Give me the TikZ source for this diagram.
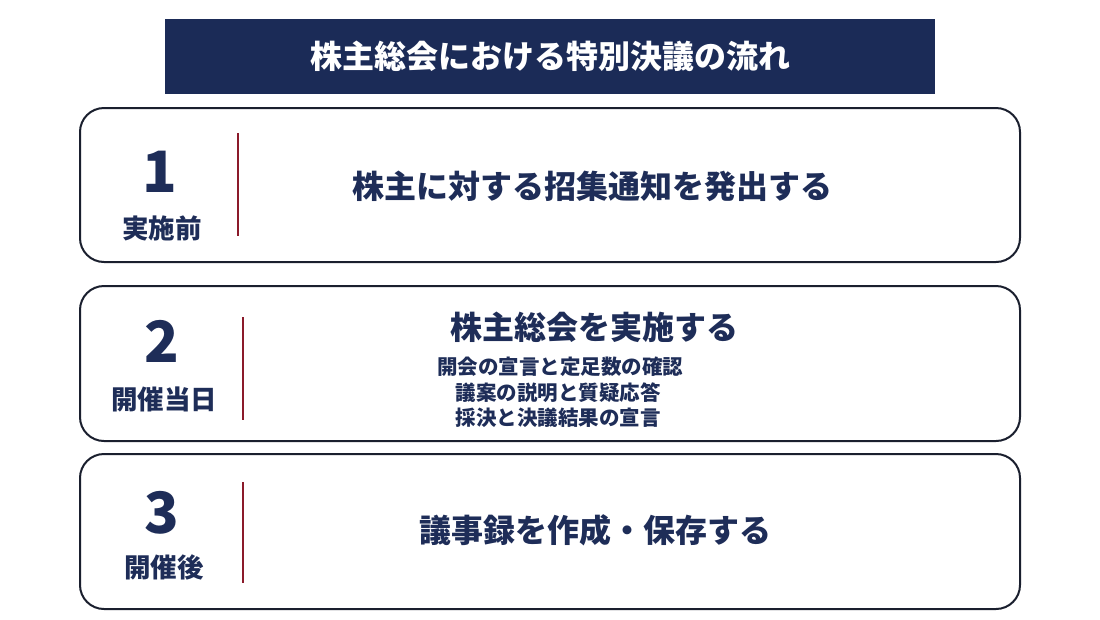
\documentclass[tikz,border=0pt]{standalone}
\usepackage{fontspec}
\setmainfont{Noto Sans CJK JP}
\newfontfamily\cjk{Noto Sans CJK JP}
\definecolor{navy}{HTML}{1B2B57}
\definecolor{txtnavy}{HTML}{1E2D58}
\definecolor{darkred}{HTML}{8B1A2A}
\definecolor{boxline}{HTML}{1A1F2E}
\tikzset{
  stepbox/.style={draw=boxline, line width=2pt, rounded corners=24pt, fill=white},
  numtext/.style={text=txtnavy, font=\cjk\bfseries\fontsize{57}{60}\selectfont, inner sep=0pt},
  phasetext/.style={text=txtnavy, font=\cjk\bfseries\fontsize{26.5}{30}\selectfont, inner sep=0pt},
  maintext/.style={text=txtnavy, font=\cjk\bfseries\fontsize{32}{35}\selectfont, inner sep=0pt},
  subtext/.style={text=txtnavy, font=\cjk\bfseries\fontsize{20.5}{24}\selectfont, inner sep=0pt},
  sepline/.style={draw=darkred, line width=2pt}
}
\begin{document}
\begin{tikzpicture}[x=1pt,y=-1pt]
\useasboundingbox[fill=white] (0,0) rectangle (1100,619);
% title
\node[fill=navy, minimum width=770pt, minimum height=75pt, inner sep=0pt] (title) at (550,56) {};
\node[text=white, font=\cjk\bfseries\fontsize{32}{35}\selectfont, inner sep=0pt] (titletext) at (550,56) {株主総会における特別決議の流れ};
% boxes
\draw[stepbox] (80,108) rectangle (1020,262);
\node (box1) at (550,185) {};
\draw[stepbox] (80,286) rectangle (1020,441);
\node (box2) at (550,363) {};
\draw[stepbox] (80,454) rectangle (1020,609);
\node (box3) at (550,531) {};
% box 1
\node[numtext] (n1) at (160,172) {1};
\node[phasetext] (p1) at (162,228) {実施前};
\coordinate (l1a) at (238,133);
\coordinate (l1b) at (238,236);
\draw[sepline] (l1a) -- (l1b);
\node[maintext] (m1) at (592,186) {株主に対する招集通知を発出する};
% box 2
\node[numtext] (n2) at (162,341) {2};
\node[phasetext] (p2) at (164,399) {開催当日};
\coordinate (l2a) at (243,317);
\coordinate (l2b) at (243,420);
\draw[sepline] (l2a) -- (l2b);
\node[maintext] (m2) at (594,327) {株主総会を実施する};
\node[subtext] (s1) at (560,367) {開会の宣言と定足数の確認};
\node[subtext] (s2) at (558,393) {議案の説明と質疑応答};
\node[subtext] (s3) at (558,418) {採決と決議結果の宣言};
% box 3
\node[numtext] (n3) at (162,513) {3};
\node[phasetext] (p3) at (164,567) {開催後};
\coordinate (l3a) at (243,482);
\coordinate (l3b) at (243,583);
\draw[sepline] (l3a) -- (l3b);
\node[maintext] (m3) at (595,530) {議事録を作成・保存する};
\end{tikzpicture}
\end{document}
